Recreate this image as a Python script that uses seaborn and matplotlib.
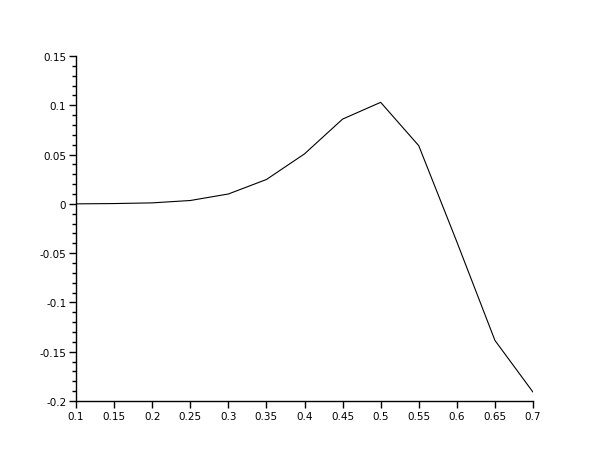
import matplotlib
matplotlib.use("Agg")
import matplotlib.pyplot as plt
from matplotlib.ticker import MultipleLocator, FormatStrFormatter
import seaborn as sns

# Data
x_vals = [0.1, 0.15, 0.2, 0.25, 0.3, 0.35, 0.4, 0.45, 0.5, 0.55, 0.6, 0.65, 0.7]
y_vals = [0.0, 0.0003, 0.001, 0.0034, 0.010, 0.0247, 0.0507, 0.086, 0.103,
          0.059, -0.0385, -0.1385, -0.191]

x_ticks = [0.1, 0.15, 0.2, 0.25, 0.3, 0.35, 0.4, 0.45, 0.5, 0.55, 0.6, 0.65, 0.7]
y_ticks = [-0.2, -0.15, -0.1, -0.05, 0, 0.05, 0.1, 0.15]

sns.set_style("ticks")
plt.rcParams["font.family"] = ["DejaVu Sans"]

fig = plt.figure(figsize=(6.1, 4.6), dpi=100)
ax = fig.add_axes([76 / 610, 58 / 460, 457 / 610, 345 / 460])

sns.lineplot(x=x_vals, y=y_vals, color="black", linewidth=0.8, ax=ax)

ax.set_xlim(0.1, 0.7)
ax.set_ylim(-0.2, 0.15)
ax.set_xticks(x_ticks)
ax.set_yticks(y_ticks)
ax.set_xticklabels([f"{v:g}" for v in x_ticks])
ax.set_yticklabels([f"{v:g}" for v in y_ticks])
ax.yaxis.set_minor_locator(MultipleLocator(0.01))

for side in ["top", "right"]:
    ax.spines[side].set_visible(False)
for side in ["left", "bottom"]:
    ax.spines[side].set_linewidth(1.0)
    ax.spines[side].set_color("black")

ax.tick_params(axis="both", which="major", length=5, width=1.0, colors="black",
               labelsize=7.5, pad=2)
ax.tick_params(axis="y", which="minor", length=3, width=1.0, colors="black")
ax.grid(False)

fig.savefig("out.png", dpi=100)
